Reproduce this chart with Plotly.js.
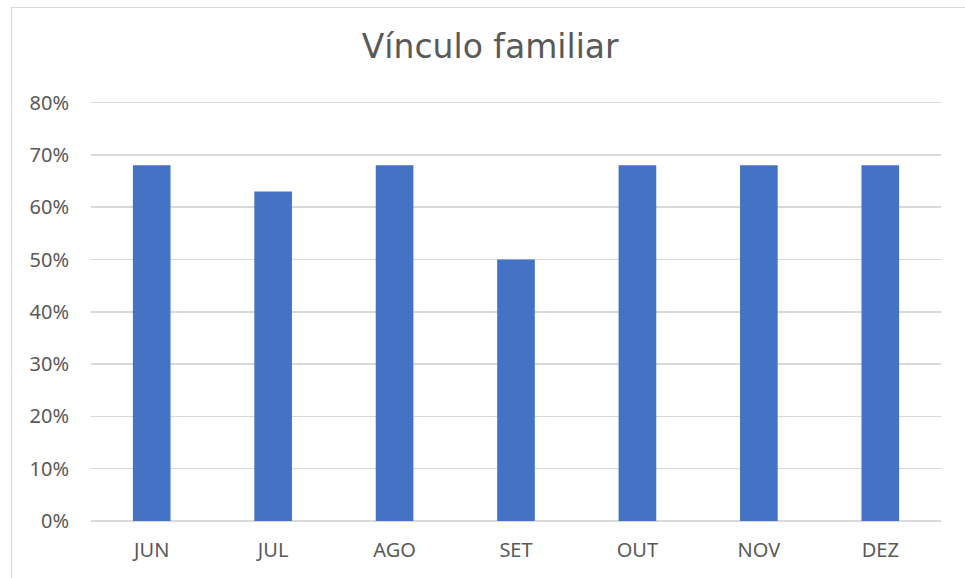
<!DOCTYPE html>
<html>
<head>
<meta charset="utf-8">
<script src="https://cdn.plot.ly/plotly-3.0.1.min.js"></script>
<style>
html,body{margin:0;padding:0;overflow:hidden;background:#fff;}
#frame{position:absolute;left:11px;top:7px;width:970px;height:600px;border:1.5px solid #d9d9d9;box-sizing:border-box;pointer-events:none;z-index:5;}
#chart{position:absolute;left:0;top:0;width:965px;height:578px;}
</style>
</head>
<body>
<div id="chart"></div>
<div id="frame"></div>
<script>
const months = ["JUN","JUL","AGO","SET","OUT","NOV","DEZ"];
const values = [0.68,0.63,0.68,0.50,0.68,0.68,0.68];
const titleText = "Vínculo familiar";

const data = [{
  type: "bar",
  x: months,
  y: values,
  marker: {color: "#4472C4"},
  hoverinfo: "x+y"
}];

const layout = {
  width: 965, height: 578,
  margin: {l: 91, r: 24, t: 100, b: 57},
  paper_bgcolor: "rgba(0,0,0,0)",
  plot_bgcolor: "#fff",
  bargap: 0.69,
  showlegend: false,
  font: {family: "Noto Sans, Open Sans, sans-serif", color: "#595959", size: 20},
  title: {
    text: titleText,
    font: {family: "DejaVu Sans, Liberation Sans, sans-serif", size: 33, color: "#595959"},
    xref: "container", x: 0.508, xanchor: "center",
    yref: "container", y: 0.919, yanchor: "middle"
  },
  xaxis: {
    showgrid: false, showline: false, zeroline: false,
    ticks: "", ticklabelstandoff: 15,
    tickfont: {size: 20, color: "#595959"}
  },
  yaxis: {
    range: [0, 0.805], dtick: 0.1, tick0: 0,
    tickformat: ".0%",
    showgrid: true, gridcolor: "#d9d9d9", gridwidth: 1.5,
    zeroline: true, zerolinecolor: "#d9d9d9", zerolinewidth: 1.5,
    showline: false, ticks: "", ticklabelstandoff: 21,
    tickfont: {size: 20, color: "#595959"}
  }
};

Plotly.newPlot("chart", data, layout, {displayModeBar: false, staticPlot: true});
</script>
</body>
</html>
